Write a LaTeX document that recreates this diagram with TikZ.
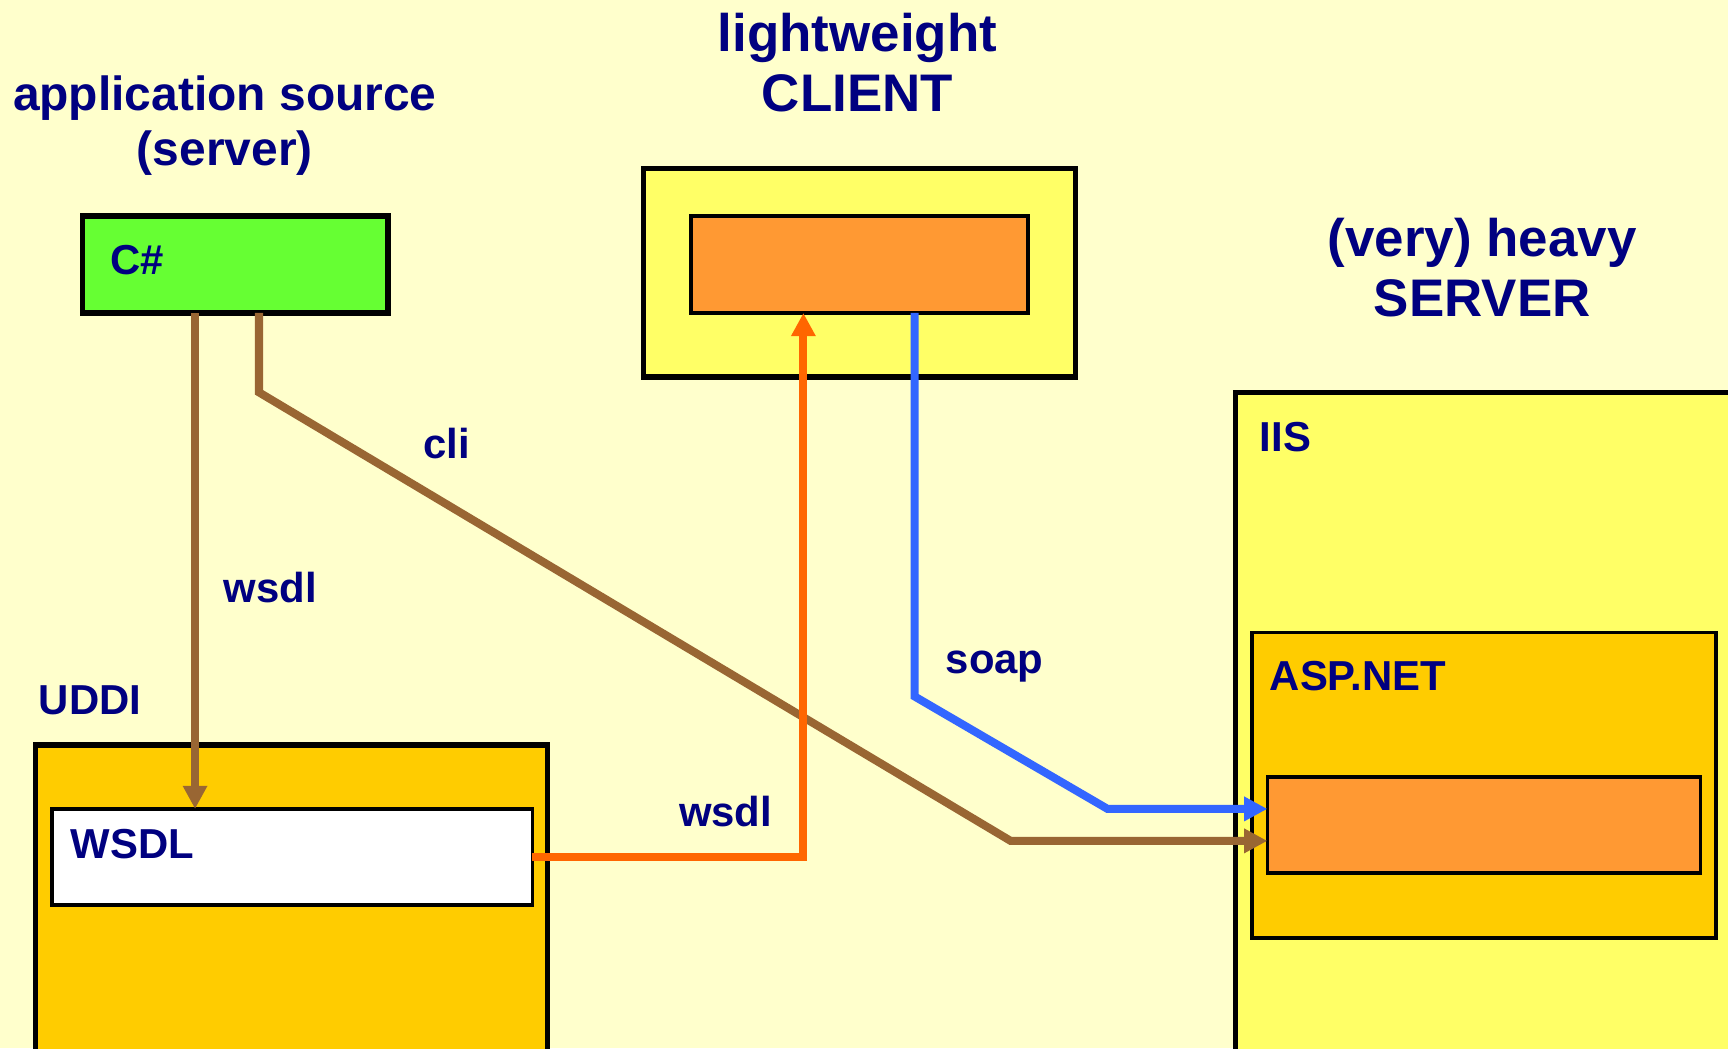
\documentclass[tikz,border=0pt]{standalone}
\usepackage{fontspec}
\setmainfont{Liberation Sans}
\usetikzlibrary{arrows.meta,positioning}
\definecolor{paper}{HTML}{FFFFCC}
\definecolor{navy}{HTML}{000080}
\definecolor{csgreen}{HTML}{66FF33}
\definecolor{lightyel}{HTML}{FFFF66}
\definecolor{boxorange}{HTML}{FF9933}
\definecolor{gold}{HTML}{FFCC00}
\definecolor{linkbrown}{HTML}{996633}
\definecolor{linkorange}{HTML}{FF6600}
\definecolor{linkblue}{HTML}{3366FF}
\begin{document}
\begin{tikzpicture}[x=1pt,y=-1pt]
	\tikzstyle{box}=[draw=black,line width=4.8pt,inner sep=0pt,outer sep=0pt,anchor=north west]
	\tikzstyle{inbox}=[box,line width=3.2pt]
	\tikzstyle{title}=[text=navy,inner sep=0pt,anchor=base,font=\bfseries\fontsize{48}{54}\selectfont]
	\tikzstyle{tag}=[text=navy,inner sep=0pt,anchor=base west,font=\bfseries\fontsize{38}{44}\selectfont]
	\tikzstyle{link}=[line width=7.3pt,-{Triangle[length=21pt,width=21pt]}]

	\fill[paper] (0,0) rectangle (1568,951);
	\useasboundingbox (0,0) rectangle (1568,951);
	\clip (0,0) rectangle (1568,951);

	% headings
	\node[title,font=\bfseries\fontsize{43.5}{50}\selectfont] (src1) at (204,100) {application source};
	\node[title,font=\bfseries\fontsize{43.5}{50}\selectfont] (src2) at (204,150) {(server)};
	\node[title] (light) at (778,47) {lightweight};
	\node[title] (client) at (778,101) {CLIENT};
	\node[title] (heavy) at (1345,233) {(very) heavy};
	\node[title] (server) at (1345,287) {SERVER};

	% boxes
	\node[box,fill=csgreen,minimum width=277,minimum height=88] (cs) at (75,196) {};
	\node[box,fill=lightyel,minimum width=392,minimum height=189] (clientbox) at (584,153) {};
	\node[inbox,fill=boxorange,minimum width=306,minimum height=88] (app) at (627,196) {};
	\node[box,fill=lightyel,minimum width=600,minimum height=700] (iis) at (1121,356) {};
	\node[inbox,fill=gold,minimum width=421,minimum height=277] (asp) at (1136,574) {};
	\node[inbox,fill=boxorange,minimum width=393,minimum height=87] (core) at (1150,705) {};
	\node[box,fill=gold,minimum width=465,minimum height=400] (uddi) at (32,676) {};
	\node[inbox,fill=white,minimum width=436,minimum height=87] (wsdl) at (47,734) {};

	% labels
	\node[tag] (cslabel) at (100,249) {C\#};
	\node[tag] (iislabel) at (1143,410) {IIS};
	\node[tag] (asplabel) at (1152,627) {ASP.NET};
	\node[tag] (uddilabel) at (35,648) {UDDI};
	\node[tag] (wsdllabel) at (64,779) {WSDL};
	\node[tag] (wsdldown) at (203,547) {wsdl};
	\node[tag] (cli) at (384,416) {cli};
	\node[tag] (soap) at (858,611) {soap};
	\node[tag] (wsdlup) at (616,750) {wsdl};

	% bends
	\coordinate (wsdlDrop) at (177,0);
	\coordinate (cliBend) at (235,356);
	\coordinate (cliKnee) at (917,763);
	\coordinate (wsdlKnee) at (729,0);
	\coordinate (soapBend) at (830,632);
	\coordinate (soapKnee) at (1005,734);

	\draw[link,linkbrown] (cs.south -| wsdlDrop) -- (wsdl.north -| wsdlDrop);
	\draw[link,linkbrown] (cs.south -| cliBend) -- (cliBend) -- (cliKnee) -- (cliKnee -| core.west);
	\draw[link,linkorange] (wsdl.east) -- (wsdl.east -| wsdlKnee) -- (wsdlKnee |- app.south);
	\draw[link,linkblue] (app.south -| soapBend) -- (soapBend) -- (soapKnee) -- (soapKnee -| core.west);
\end{tikzpicture}
\end{document}
